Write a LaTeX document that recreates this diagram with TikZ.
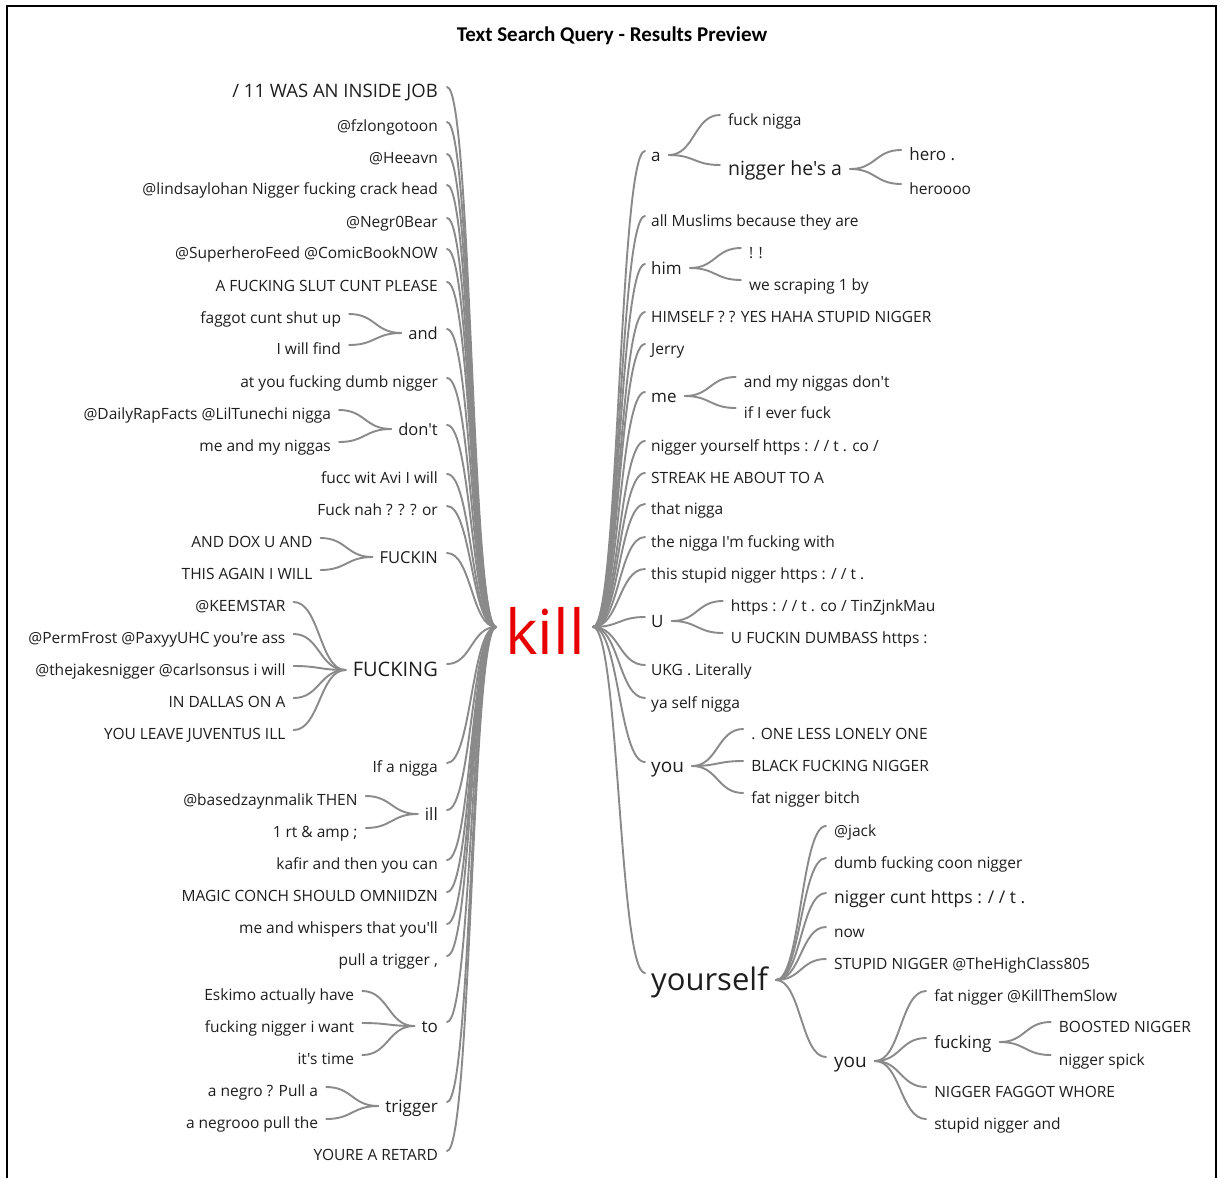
\documentclass[tikz,border=0pt]{standalone}
\usepackage{fontspec}
\setmainfont{Open Sans}[Ligatures=TeXOff]
\newfontfamily\titlefont{Carlito}
\usetikzlibrary{calc}
\definecolor{edge}{RGB}{138,138,138}
\definecolor{txt}{RGB}{30,30,30}
\definecolor{hot}{RGB}{232,0,0}
\newcommand\fs[1]{\fontsize{#1}{#1}\selectfont}
% sigmoid connector between two points
\newcommand\wtcurve[2]{\draw[conn] let \p1=#1, \p2=#2 in (\p1) .. controls ({(\x1+\x2)/2},\y1) and ({(\x1+\x2)/2},\y2) .. (\p2);}
\newcommand\hubleft[2][4pt]{\wtcurve{([xshift=9pt,yshift=#1]#2.east)}{(hubL)}}
\newcommand\hubright[2][5pt]{\wtcurve{(hubR)}{([xshift=-6pt,yshift=#1]#2.west)}}
\newcommand\subleft[2]{\wtcurve{([xshift=-7pt,yshift=1pt]#1.west)}{([xshift=8pt,yshift=4pt]#2.east)}}
\newcommand\subright[3][1pt]{\wtcurve{([xshift=8pt,yshift=#1]#2.east)}{([xshift=-8pt,yshift=5pt]#3.west)}}
\begin{document}
\begin{tikzpicture}[x=1pt,y=-1pt,
  word/.style={inner sep=0pt, text=txt, font=\fs{15.5}, text height=1.2em, text depth=0.2em},
  wl/.style={word, anchor=east},
  wr/.style={word, anchor=west},
  conn/.style={draw=edge, line width=1.9pt, line cap=round}]
\useasboundingbox (0,0) rectangle (1222,1178);
\fill[white] (0,0) rectangle (1222,1178);
\draw[black, line width=1.6pt] (7,1178) -- (7,6) -- (1216,6) -- (1216,1178);

\node[font=\titlefont\bfseries\fs{21}, text=black] (title) at (612,36) {Text Search Query - Results Preview};

\node[font=\fs{62}, text=hot, inner sep=0pt] (kill) at (545,631) {kill};
\coordinate (hubL) at (496,627);
\coordinate (hubR) at (593,627);

% ---- words before "kill"
\node[wl, font=\fs{18.5}] (L1) at (438,92) {/ 11 WAS AN INSIDE JOB};
\node[wl] (L2) at (438,126) {@fzlongotoon};
\node[wl] (L3) at (438,158) {@Heeavn};
\node[wl] (L4) at (438,189) {@lindsaylohan Nigger fucking crack head};
\node[wl] (L5) at (438,222) {@Negr0Bear};
\node[wl] (L6) at (438,253) {@SuperheroFeed @ComicBookNOW};
\node[wl] (L7) at (438,286) {A FUCKING SLUT CUNT PLEASE};
\node[wl, font=\fs{16.5}] (L8) at (438,334) {and};
  \node[wl, xshift=-67pt] (L8a) at (L8.west |- 0,318) {faggot cunt shut up};
  \node[wl, xshift=-67pt] (L8b) at (L8.west |- 0,349) {I will find};
\node[wl] (L9) at (438,382) {at you fucking dumb nigger};
\node[wl, font=\fs{16.5}] (L10) at (438,430) {don't};
  \node[wl, xshift=-67pt] (L10a) at (L10.west |- 0,414) {@DailyRapFacts @LilTunechi nigga};
  \node[wl, xshift=-67pt] (L10b) at (L10.west |- 0,446) {me and my niggas};
\node[wl] (L11) at (438,478) {fucc wit Avi I will};
\node[wl] (L12) at (438,510) {Fuck nah ? ? ? or};
\node[wl, font=\fs{16.5}] (L13) at (438,558) {FUCKIN};
  \node[wl, xshift=-67pt] (L13a) at (L13.west |- 0,542) {AND DOX U AND};
  \node[wl, xshift=-67pt] (L13b) at (L13.west |- 0,574) {THIS AGAIN I WILL};
\node[wl, font=\fs{20}] (L14) at (438,671) {FUCKING};
  \node[wl, xshift=-67pt] (L14a) at (L14.west |- 0,606) {@KEEMSTAR};
  \node[wl, xshift=-67pt] (L14b) at (L14.west |- 0,638) {@PermFrost @PaxyyUHC you're ass};
  \node[wl, xshift=-67pt] (L14c) at (L14.west |- 0,670) {@thejakesnigger @carlsonsus i will};
  \node[wl, xshift=-67pt] (L14d) at (L14.west |- 0,702) {IN DALLAS ON A};
  \node[wl, xshift=-67pt] (L14e) at (L14.west |- 0,734) {YOU LEAVE JUVENTUS ILL};
\node[wl] (L15) at (438,767) {If a nigga};
\node[wl, font=\fs{17}] (L16) at (438,815) {ill};
  \node[wl, xshift=-67pt] (L16a) at (L16.west |- 0,800) {@basedzaynmalik THEN};
  \node[wl, xshift=-67pt] (L16b) at (L16.west |- 0,832) {1 rt \& amp ;};
\node[wl] (L17) at (438,864) {kafir and then you can};
\node[wl] (L18) at (438,896) {MAGIC CONCH SHOULD OMNIIDZN};
\node[wl] (L19) at (438,928) {me and whispers that you'll};
\node[wl] (L20) at (438,960) {pull a trigger ,};
\node[wl, font=\fs{17}] (L21) at (438,1027) {to};
  \node[wl, xshift=-67pt] (L21a) at (L21.west |- 0,995) {Eskimo actually have};
  \node[wl, xshift=-67pt] (L21b) at (L21.west |- 0,1027) {fucking nigger i want};
  \node[wl, xshift=-67pt] (L21c) at (L21.west |- 0,1059) {it's time};
\node[wl, font=\fs{17}] (L22) at (438,1107) {trigger};
  \node[wl, xshift=-67pt] (L22a) at (L22.west |- 0,1091) {a negro ? Pull a};
  \node[wl, xshift=-67pt] (L22b) at (L22.west |- 0,1123) {a negrooo pull the};
\node[wl] (L23) at (438,1155) {YOURE A RETARD};

% ---- words after "kill"
\node[wr, font=\fs{17}] (R1) at (651,156) {a};
  \node[wr, xshift=67pt] (R1a) at (R1.east |- 0,120) {fuck nigga};
  \node[wr, xshift=67pt, font=\fs{19.5}] (R1b) at (R1.east |- 0,170) {nigger he's a};
    \node[wr, xshift=67pt, font=\fs{17}] (R1b1) at (R1b.east |- 0,155) {hero .};
    \node[wr, xshift=67pt] (R1b2) at (R1b.east |- 0,189) {heroooo};
\node[wr] (R2) at (651,221) {all Muslims because they are};
\node[wr, font=\fs{17}] (R3) at (651,269) {him};
  \node[wr, xshift=67pt] (R3a) at (R3.east |- 0,253) {! !};
  \node[wr, xshift=67pt] (R3b) at (R3.east |- 0,285) {we scraping 1 by};
\node[wr] (R4) at (651,317) {HIMSELF ? ? YES HAHA STUPID NIGGER};
\node[wr] (R5) at (651,349) {Jerry};
\node[wr, font=\fs{17}] (R6) at (651,397) {me};
  \node[wr, xshift=67pt] (R6a) at (R6.east |- 0,382) {and my niggas don't};
  \node[wr, xshift=67pt] (R6b) at (R6.east |- 0,413) {if I ever fuck};
\node[wr] (R7) at (651,446) {nigger yourself https : / / t . co /};
\node[wr] (R8) at (651,478) {STREAK HE ABOUT TO A};
\node[wr] (R9) at (651,509) {that nigga};
\node[wr] (R10) at (651,542) {the nigga I'm fucking with};
\node[wr] (R11) at (651,574) {this stupid nigger https : / / t .};
\node[wr, font=\fs{17}] (R12) at (651,622) {U};
  \node[wr, xshift=67pt] (R12a) at (R12.east |- 0,606) {https : / / t . co / TinZjnkMau};
  \node[wr, xshift=67pt] (R12b) at (R12.east |- 0,638) {U FUCKIN DUMBASS https :};
\node[wr] (R13) at (651,670) {UKG . Literally};
\node[wr] (R14) at (651,703) {ya self nigga};
\node[wr, font=\fs{19}] (R15) at (651,767) {you};
  \node[wr, xshift=67pt] (R15a) at (R15.east |- 0,734) {. ONE LESS LONELY ONE};
  \node[wr, xshift=67pt] (R15b) at (R15.east |- 0,766) {BLACK FUCKING NIGGER};
  \node[wr, xshift=67pt] (R15c) at (R15.east |- 0,798) {fat nigger bitch};
\node[wr, font=\fs{31}] (R16) at (651,985) {yourself};
  \node[wr, xshift=66pt] (R16a) at (R16.east |- 0,831) {@jack};
  \node[wr, xshift=66pt] (R16b) at (R16.east |- 0,863) {dumb fucking coon nigger};
  \node[wr, xshift=66pt, font=\fs{17.5}] (R16c) at (R16.east |- 0,898) {nigger cunt https : / / t .};
  \node[wr, xshift=66pt] (R16d) at (R16.east |- 0,932) {now};
  \node[wr, xshift=66pt] (R16e) at (R16.east |- 0,964) {STUPID NIGGER @TheHighClass805};
  \node[wr, xshift=66pt, font=\fs{19}] (R16f) at (R16.east |- 0,1062) {you};
    \node[wr, xshift=67pt] (R16f1) at (R16f.east |- 0,996) {fat nigger @KillThemSlow};
    \node[wr, xshift=67pt, font=\fs{17}] (R16f2) at (R16f.east |- 0,1043) {fucking};
      \node[wr, xshift=67pt] (R16f2a) at (R16f2.east |- 0,1027) {BOOSTED NIGGER};
      \node[wr, xshift=67pt] (R16f2b) at (R16f2.east |- 0,1060) {nigger spick};
    \node[wr, xshift=67pt] (R16f3) at (R16f.east |- 0,1092) {NIGGER FAGGOT WHORE};
    \node[wr, xshift=67pt] (R16f4) at (R16f.east |- 0,1124) {stupid nigger and};

% ---- connectors, left half
\hubleft[5pt]{L1}
\foreach \nm in {L2,L3,L4,L5,L6,L7,L9,L11,L12,L15,L17,L18,L19,L20,L23} {\hubleft{\nm}}
\foreach \nm in {L8,L10,L13,L16,L21,L22} {\hubleft[5pt]{\nm}}
\hubleft[7pt]{L14}
\foreach \nm in {L8a,L8b} {\subleft{L8}{\nm}}
\foreach \nm in {L10a,L10b} {\subleft{L10}{\nm}}
\foreach \nm in {L13a,L13b} {\subleft{L13}{\nm}}
\foreach \nm in {L14a,L14b,L14c,L14d,L14e} {\subleft{L14}{\nm}}
\foreach \nm in {L16a,L16b} {\subleft{L16}{\nm}}
\foreach \nm in {L21a,L21b,L21c} {\subleft{L21}{\nm}}
\foreach \nm in {L22a,L22b} {\subleft{L22}{\nm}}

% ---- connectors, right half
\foreach \nm in {R1,R2,R3,R4,R5,R6,R7,R8,R9,R10,R11,R12,R13,R14,R15} {\hubright{\nm}}
\hubright[12pt]{R16}
\foreach \nm in {R1a,R1b} {\subright{R1}{\nm}}
\foreach \nm in {R1b1,R1b2} {\subright{R1b}{\nm}}
\foreach \nm in {R3a,R3b} {\subright{R3}{\nm}}
\foreach \nm in {R6a,R6b} {\subright{R6}{\nm}}
\foreach \nm in {R12a,R12b} {\subright{R12}{\nm}}
\foreach \nm in {R15a,R15b,R15c} {\subright{R15}{\nm}}
\foreach \nm in {R16a,R16b,R16c,R16d,R16e,R16f} {\subright[5pt]{R16}{\nm}}
\foreach \nm in {R16f1,R16f2,R16f3,R16f4} {\subright{R16f}{\nm}}
\foreach \nm in {R16f2a,R16f2b} {\subright{R16f2}{\nm}}
\end{tikzpicture}
\end{document}
